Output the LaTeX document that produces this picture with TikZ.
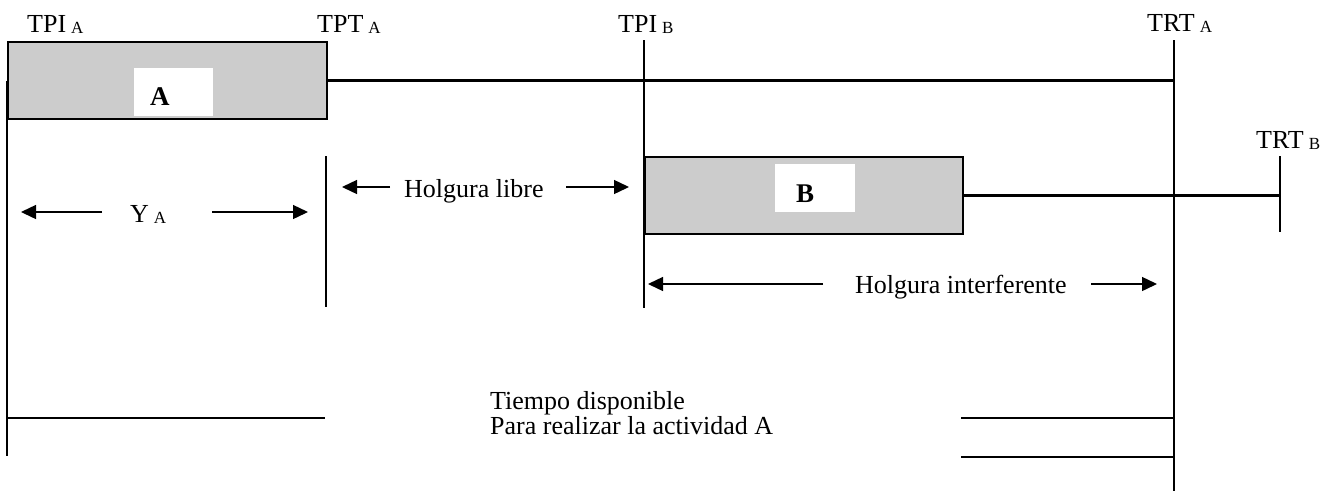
\documentclass[tikz,border=0pt]{standalone}
\usepackage{fontspec}
\setmainfont{Liberation Serif}
\usetikzlibrary{arrows.meta}
\definecolor{boxgray}{RGB}{204,204,204}
\newcommand{\subl}[1]{\hspace{5pt}\raisebox{-1.5pt}{\fontsize{17}{17}\selectfont #1}}
\begin{document}
\begin{tikzpicture}[x=1pt,y=-1pt,
  ln/.style={line width=2.1pt},
  arr/.style={line width=1.4pt,-{Triangle[length=15pt,width=14pt]}},
  actbox/.style={draw,line width=2pt,fill=boxgray,inner sep=0pt,anchor=north west},
  whbox/.style={fill=white,inner sep=0pt,anchor=north west},
  lbl/.style={font=\fontsize{26}{26}\selectfont,inner sep=0pt,anchor=base west},
  big/.style={font=\fontsize{27}{27}\selectfont\bfseries,inner sep=0pt,anchor=base west}]
\useasboundingbox[fill=white] (0,0) rectangle (1335,491);

% coordinates of line ends
\coordinate (lBot) at (7,456);
\coordinate (tpiBtop) at (644,40);
\coordinate (tpiBbot) at (644,308);
\coordinate (trtAtop) at (1174,40);
\coordinate (trtAbot) at (1174,491);
\coordinate (trtBtop) at (1280,156);
\coordinate (trtBbot) at (1280,232);
\coordinate (tptTop) at (326,156);
\coordinate (tptBot) at (326,307);
\coordinate (b1L) at (7,418);
\coordinate (b1R) at (325,418);
\coordinate (b2L) at (961,418);
\coordinate (b2R) at (1174,418);
\coordinate (b3L) at (961,457);
\coordinate (b3R) at (1174,457);
\coordinate (yaT1) at (102,212);
\coordinate (yaH1) at (21,212);
\coordinate (yaT2) at (212,212);
\coordinate (yaH2) at (308,212);
\coordinate (hlT1) at (390,187);
\coordinate (hlH1) at (342,187);
\coordinate (hlT2) at (566,187);
\coordinate (hlH2) at (629,187);
\coordinate (hiT1) at (823,284);
\coordinate (hiH1) at (648,284);
\coordinate (hiT2) at (1091,284);
\coordinate (hiH2) at (1157,284);

% activity boxes
\node[actbox,minimum width=319pt,minimum height=77pt] (boxA) at (7,41) {};
\node[actbox,minimum width=318pt,minimum height=77pt] (boxB) at (644,156) {};
\node[whbox,minimum width=79pt,minimum height=48pt] (wA) at (134,68) {};
\node[big] (tA) at (150,105) {A};
\node[whbox,minimum width=80pt,minimum height=48pt] (wB) at (775,164) {};
\node[big] (tB) at (796,202) {B};

% lines
\draw[ln] (boxA.west) -- (lBot);
\draw[ln] (boxA.east) -- (boxA.east -| trtAtop);
\draw[ln] (tpiBtop) -- (tpiBbot);
\draw[ln] (trtAtop) -- (trtAbot);
\draw[ln] (boxB.east) -- (boxB.east -| trtBtop);
\draw[ln] (trtBtop) -- (trtBbot);
\draw[ln] (tptTop) -- (tptBot);
\draw[ln] (b1L) -- (b1R);
\draw[ln] (b2L) -- (b2R);
\draw[ln] (b3L) -- (b3R);

% arrows
\draw[arr] (yaT1) -- (yaH1);
\draw[arr] (yaT2) -- (yaH2);
\draw[arr] (hlT1) -- (hlH1);
\draw[arr] (hlT2) -- (hlH2);
\draw[arr] (hiT1) -- (hiH1);
\draw[arr] (hiT2) -- (hiH2);

% labels
\node[lbl] (lTPIA) at (27,32) {TPI\subl{A}};
\node[lbl] (lTPTA) at (317,32) {TPT\subl{A}};
\node[lbl] (lTPIB) at (618,32) {TPI\subl{B}};
\node[lbl] (lTRTA) at (1147,31) {TRT\subl{A}};
\node[lbl] (lTRTB) at (1256,148) {TRT\subl{B}};
\node[lbl] (lYA) at (130,222) {Y\subl{A}};
\node[lbl] (lHL) at (404,197) {Holgura libre};
\node[lbl] (lHI) at (855,293) {Holgura interferente};
\node[lbl] (lT1) at (490,409) {Tiempo disponible};
\node[lbl] (lT2) at (490,434) {Para realizar la actividad A};
\end{tikzpicture}
\end{document}
